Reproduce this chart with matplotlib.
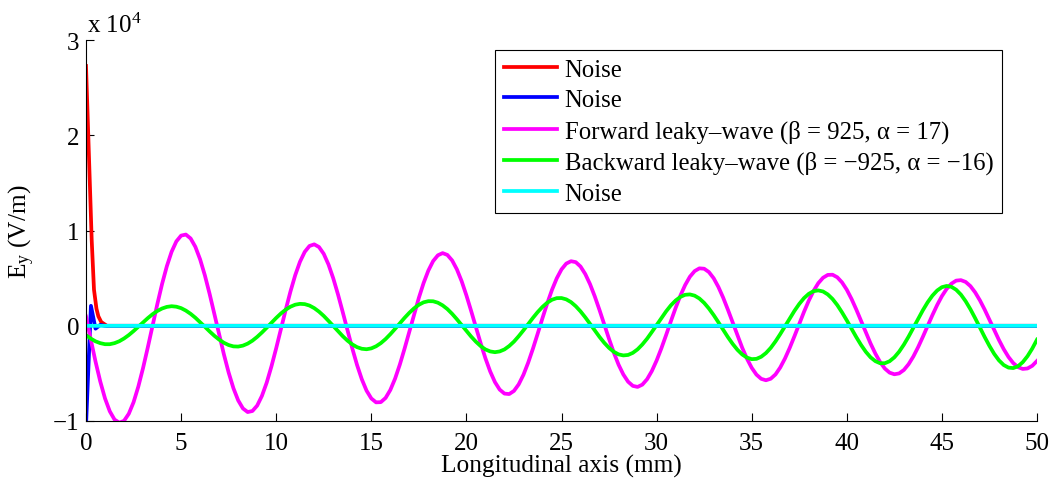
import numpy as np
import matplotlib
matplotlib.use("Agg")
import matplotlib.pyplot as plt

plt.rcParams['font.family'] = ['Liberation Serif', 'DejaVu Serif']
plt.rcParams['mathtext.fontset'] = 'stix'

# positions along the line (mm), read every 0.25 mm
x_mm = np.linspace(0, 50, 201)

# field values in units of 1e4 V/m
forward = [0.098, -0.143, -0.375, -0.585, -0.763, -0.898, -0.985, -1.018, -0.998, -0.924,
           -0.803, -0.639, -0.443, -0.226, 0.002, 0.228, 0.440, 0.626, 0.778, 0.887,
           0.948, 0.959, 0.918, 0.830, 0.698, 0.530, 0.335, 0.124, -0.091, -0.300,
           -0.491, -0.655, -0.783, -0.868, -0.906, -0.895, -0.838, -0.736, -0.597, -0.426,
           -0.235, -0.033, 0.169, 0.361, 0.532, 0.673, 0.777, 0.839, 0.856, 0.828,
           0.756, 0.644, 0.499, 0.329, 0.143, -0.049, -0.237, -0.411, -0.561, -0.681,
           -0.763, -0.804, -0.802, -0.758, -0.674, -0.555, -0.407, -0.239, -0.060, 0.121,
           0.294, 0.450, 0.581, 0.680, 0.741, 0.764, 0.745, 0.687, 0.593, 0.469,
           0.320, 0.156, -0.015, -0.183, -0.341, -0.479, -0.591, -0.670, -0.712, -0.717,
           -0.684, -0.615, -0.514, -0.386, -0.239, -0.081, 0.081, 0.236, 0.378, 0.499,
           0.593, 0.654, 0.679, 0.669, 0.623, 0.544, 0.438, 0.309, 0.165, 0.013,
           -0.138, -0.281, -0.408, -0.511, -0.587, -0.631, -0.642, -0.618, -0.561, -0.475,
           -0.365, -0.237, -0.097, 0.048, 0.188, 0.317, 0.428, 0.516, 0.575, 0.604,
           0.600, 0.565, 0.500, 0.408, 0.296, 0.169, 0.035, -0.101, -0.230, -0.345,
           -0.441, -0.513, -0.557, -0.572, -0.556, -0.511, -0.438, -0.343, -0.231, -0.108,
           0.021, 0.147, 0.264, 0.366, 0.448, 0.505, 0.535, 0.537, 0.510, 0.456,
           0.379, 0.282, 0.171, 0.051, -0.069, -0.186, -0.291, -0.380, -0.449, -0.492,
           -0.509, -0.500, -0.464, -0.403, -0.322, -0.224, -0.115, -0.001, 0.112, 0.218,
           0.312, 0.388, 0.443, 0.475, 0.480, 0.461, 0.417, 0.351, 0.267, 0.170,
           0.064, -0.044, -0.149, -0.245, -0.327, -0.391, -0.434, -0.453, -0.448, -0.420,
           -0.369]

backward = [-0.099, -0.134, -0.163, -0.182, -0.193, -0.193, -0.182, -0.162, -0.133, -0.097,
            -0.055, -0.010, 0.036, 0.081, 0.122, 0.156, 0.182, 0.199, 0.206, 0.201,
            0.186, 0.160, 0.126, 0.085, 0.038, -0.010, -0.059, -0.105, -0.145, -0.178,
            -0.202, -0.216, -0.218, -0.208, -0.187, -0.156, -0.116, -0.070, -0.020, 0.032,
            0.083, 0.130, 0.170, 0.201, 0.222, 0.231, 0.228, 0.213, 0.186, 0.149,
            0.104, 0.052, -0.002, -0.057, -0.109, -0.156, -0.195, -0.224, -0.241, -0.246,
            -0.237, -0.215, -0.182, -0.139, -0.088, -0.032, 0.026, 0.084, 0.137, 0.184,
            0.221, 0.247, 0.259, 0.258, 0.243, 0.215, 0.176, 0.126, 0.069, 0.008,
            -0.054, -0.113, -0.167, -0.213, -0.248, -0.269, -0.277, -0.269, -0.248, -0.212,
            -0.166, -0.109, -0.047, 0.019, 0.084, 0.145, 0.199, 0.243, 0.274, 0.291,
            0.292, 0.278, 0.249, 0.206, 0.152, 0.089, 0.021, -0.049, -0.117, -0.179,
            -0.232, -0.273, -0.300, -0.311, -0.306, -0.284, -0.247, -0.196, -0.135, -0.065,
            0.008, 0.082, 0.152, 0.215, 0.266, 0.304, 0.326, 0.330, 0.317, 0.287,
            0.241, 0.182, 0.113, 0.037, -0.042, -0.119, -0.190, -0.252, -0.301, -0.334,
            -0.350, -0.347, -0.325, -0.286, -0.232, -0.164, -0.087, -0.005, 0.079, 0.158,
            0.230, 0.291, 0.336, 0.364, 0.372, 0.361, 0.330, 0.282, 0.218, 0.141,
            0.057, -0.032, -0.119, -0.201, -0.273, -0.331, -0.371, -0.393, -0.393, -0.372,
            -0.331, -0.272, -0.198, -0.113, -0.021, 0.073, 0.164, 0.247, 0.317, 0.371,
            0.406, 0.419, 0.410, 0.379, 0.328, 0.258, 0.174, 0.080, -0.019, -0.118,
            -0.211, -0.295, -0.363, -0.412, -0.439, -0.444, -0.425, -0.382, -0.319, -0.239,
            -0.145]

# noise terms, only non-zero right at the source
noise1_x = [0, 0.3, 0.42, 0.55, 0.65, 0.8, 1.1, 50]
noise1_y = [2.73, 0.90, 0.38, 0.18, 0.10, 0.04, 0.0, 0.0]
noise2_x = [0, 0.26, 0.5, 0.75, 1.0, 50]
noise2_y = [-1.05, 0.21, -0.03, 0.01, 0.0, 0.0]
noise3_x = [0, 50]
noise3_y = [0.0, 0.0]

labels = ['Noise', 'Noise',
          'Forward leaky\u2013wave (\u03b2 = 925, \u03b1 = 17)',
          'Backward leaky\u2013wave (\u03b2 = \u2212925, \u03b1 = \u221216)',
          'Noise']

fig = plt.figure(figsize=(10.58, 4.85), dpi=100)
ax = fig.add_axes([86/1058, 63/485, 951/1058, 380.7/485])

lw = 2.7
ax.plot(noise1_x, noise1_y, color='#ff0000', lw=lw, label=labels[0], snap=False)
ax.plot(noise2_x, noise2_y, color='#0000ff', lw=lw, label=labels[1], snap=False)
ax.plot(x_mm, forward, color='#ff00ff', lw=lw, label=labels[2], snap=False)
ax.plot(x_mm, backward, color='#00ff00', lw=lw, label=labels[3], snap=False)
ax.plot(noise3_x, noise3_y, color='#00ffff', lw=lw, label=labels[4], snap=False)

ax.set_xlim(0, 50)
ax.set_ylim(-1, 3)
ax.set_xticks(range(0, 51, 5))
ax.set_yticks([-1, 0, 1, 2, 3])
ax.spines['top'].set_visible(False)
ax.spines['right'].set_visible(False)
ax.tick_params(direction='in', length=6, width=0.8, labelsize=18)
ax.tick_params(axis='x', pad=8)
ax.tick_params(axis='y', pad=5)

ax.set_xlabel('Longitudinal axis (mm)', fontsize=18.3, labelpad=0)
ax.set_ylabel(r'$\mathregular{E_y}$ (V/m)', fontsize=18.3)
ax.yaxis.set_label_coords(-0.052, 0.5)

fig.text(87/1058, 1 - 33/485, r'x 10$^{\mathregular{4}}$', fontsize=18,
         ha='left', va='baseline')

leg = ax.legend(loc='upper right', bbox_to_anchor=(1002/1058, 1 - 50.7/485),
                bbox_transform=fig.transFigure, fontsize=17.8, frameon=True,
                fancybox=False, framealpha=1, edgecolor='black',
                handlelength=2.15, handletextpad=0.3, labelspacing=0.33,
                borderpad=0.35, borderaxespad=0)
leg.get_frame().set_linewidth(0.8)

plt.savefig('out.png', dpi=100)
